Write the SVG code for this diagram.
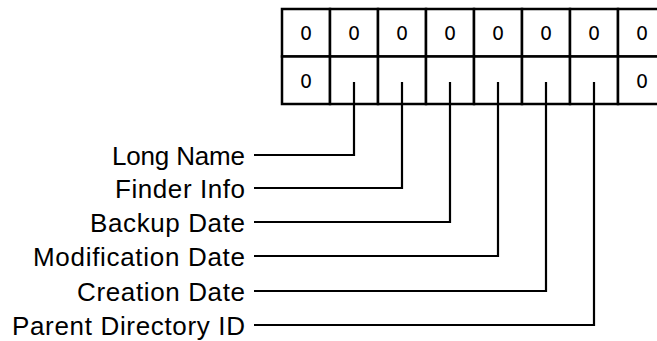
<svg xmlns="http://www.w3.org/2000/svg" width="657" height="341" viewBox="0 0 657 341">
  <style>
    .cell { fill: #ffffff; stroke: #000000; stroke-width: 2.5; }
    .digit { font-family: "DejaVu Sans", "Liberation Sans", sans-serif; font-size: 19px; fill: #000000; text-anchor: middle; }
    .label { font-family: "Liberation Sans", Arial, sans-serif; font-size: 26px; fill: #000000; text-anchor: end; }
    .wire { fill: none; stroke: #000000; stroke-width: 2.2; }
  </style>
  <rect x="0" y="0" width="657" height="341" fill="#ffffff"/>

  <!-- record grid: two rows of 48px cells -->
  <g id="grid">
    <g id="row1">
      <rect class="cell" x="282" y="9" width="48" height="47.5"/>
      <rect class="cell" x="330" y="9" width="48" height="47.5"/>
      <rect class="cell" x="378" y="9" width="48" height="47.5"/>
      <rect class="cell" x="426" y="9" width="48" height="47.5"/>
      <rect class="cell" x="474" y="9" width="48" height="47.5"/>
      <rect class="cell" x="522" y="9" width="48" height="47.5"/>
      <rect class="cell" x="570" y="9" width="48" height="47.5"/>
      <rect class="cell" x="618" y="9" width="48" height="47.5"/>
      <text class="digit" x="306" y="40">0</text>
      <text class="digit" x="354" y="40">0</text>
      <text class="digit" x="402" y="40">0</text>
      <text class="digit" x="450" y="40">0</text>
      <text class="digit" x="498" y="40">0</text>
      <text class="digit" x="546" y="40">0</text>
      <text class="digit" x="594" y="40">0</text>
      <text class="digit" x="642" y="40">0</text>
    </g>
    <g id="row2">
      <rect class="cell" x="282" y="56.5" width="48" height="47.5"/>
      <rect class="cell" x="330" y="56.5" width="48" height="47.5"/>
      <rect class="cell" x="378" y="56.5" width="48" height="47.5"/>
      <rect class="cell" x="426" y="56.5" width="48" height="47.5"/>
      <rect class="cell" x="474" y="56.5" width="48" height="47.5"/>
      <rect class="cell" x="522" y="56.5" width="48" height="47.5"/>
      <rect class="cell" x="570" y="56.5" width="48" height="47.5"/>
      <rect class="cell" x="618" y="56.5" width="48" height="47.5"/>
      <text class="digit" x="306" y="87.5">0</text>
      <text class="digit" x="642" y="87.5">0</text>
    </g>
  </g>

  <!-- field labels -->
  <g id="label-long-name"><text class="label" x="245" y="165" textLength="133" lengthAdjust="spacing">Long Name</text></g>
  <g id="label-finder-info"><text class="label" x="245" y="198" textLength="130" lengthAdjust="spacing">Finder Info</text></g>
  <g id="label-backup-date"><text class="label" x="245" y="232" textLength="155" lengthAdjust="spacing">Backup Date</text></g>
  <g id="label-modification-date"><text class="label" x="245" y="266" textLength="212" lengthAdjust="spacing">Modification Date</text></g>
  <g id="label-creation-date"><text class="label" x="245" y="301" textLength="168" lengthAdjust="spacing">Creation Date</text></g>
  <g id="label-parent-directory-id"><text class="label" x="245" y="335" textLength="233" lengthAdjust="spacing">Parent Directory ID</text></g>

  <!-- leader lines from labels up into the cells -->
  <g id="connectors">
    <polyline class="wire" points="254,155 354,155 354,82"/>
    <polyline class="wire" points="254,188 402,188 402,82"/>
    <polyline class="wire" points="254,222 450,222 450,82"/>
    <polyline class="wire" points="254,256 498,256 498,82"/>
    <polyline class="wire" points="254,291 546,291 546,82"/>
    <polyline class="wire" points="254,325 594,325 594,82"/>
  </g>
</svg>
